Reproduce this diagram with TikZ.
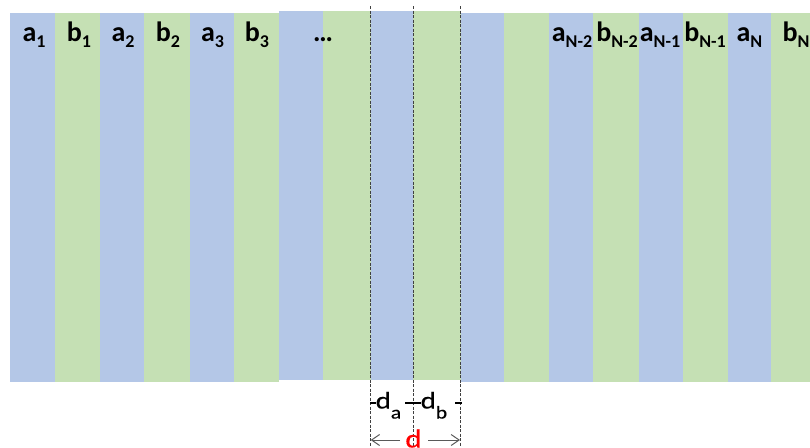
\documentclass[tikz,border=0pt]{standalone}
\usepackage{fontspec}
\setmainfont{Carlito}
\newfontfamily\dimfont{Carlito}[FakeStretch=1.2,FakeBold=0.3]
\usetikzlibrary{arrows.meta}
\definecolor{stripeblue}{HTML}{B4C7E7}
\definecolor{stripegreen}{HTML}{C5E0B4}
\definecolor{dimgray}{HTML}{595959}
\newcommand\toplab[2]{#1\raisebox{-6pt}{\fontsize{18}{18}\selectfont #2}}
\newcommand\botlab[2]{#1\raisebox{-10pt}{\fontsize{18}{18}\selectfont #2}}
\begin{document}
\begin{tikzpicture}[x=1pt,y=-1pt,
 toplabel/.style={anchor=base,inner sep=0pt,font=\bfseries\fontsize{28}{28}\selectfont},
 dimlabel/.style={anchor=base west,inner sep=0pt,font=\dimfont\fontsize{24}{24}\selectfont},
 guide/.style={draw=black!75,line width=0.8pt,dash pattern=on 3pt off 1.5pt},
 tickmark/.style={line width=2.2pt,draw=black},
 dimarrow/.style={draw=dimgray,line width=1pt,-{Straight Barb[length=8pt,width=11pt]}}]
\useasboundingbox (0,0) rectangle (810,447);
\clip (0,0) rectangle (810,447);
% stripes
\foreach \l/\r/\c in {10/55/stripeblue, 55/100/stripegreen, 100/144/stripeblue, 144/190/stripegreen, 190/234/stripeblue, 234/278.5/stripegreen}
  \fill[\c] (\l,12.7) rectangle (\r,381.7);
\foreach \l/\r/\c in {278.5/323/stripeblue, 323/370.7/stripegreen, 370.7/413.3/stripeblue, 413.3/460.7/stripegreen}
  \fill[\c] (\l,10.7) rectangle (\r,380);
\foreach \l/\r/\c in {460.7/504/stripeblue, 504/549/stripegreen, 549/593/stripeblue, 593/639/stripegreen, 639/683/stripeblue, 683/728/stripegreen, 728/771/stripeblue, 771/815/stripegreen}
  \fill[\c] (\l,12.7) rectangle (\r,381.7);
% top labels
\node[toplabel] (a1) at (34,41) {\toplab{a}{1}};
\node[toplabel] (b1) at (79,41) {\toplab{b}{1}};
\node[toplabel] (a2) at (123,41) {\toplab{a}{2}};
\node[toplabel] (b2) at (168,41) {\toplab{b}{2}};
\node[toplabel] (a3) at (212.5,41) {\toplab{a}{3}};
\node[toplabel] (b3) at (257,41) {\toplab{b}{3}};
\node[toplabel] (dots) at (323,41) {…};
\node[toplabel] (aN2) at (572,41) {\toplab{a}{N-2}};
\node[toplabel] (bN2) at (617,41) {\toplab{b}{N-2}};
\node[toplabel] (aN1) at (660,41) {\toplab{a}{N-1}};
\node[toplabel] (bN1) at (705,41) {\toplab{b}{N-1}};
\node[toplabel] (aN) at (749.5,41) {\toplab{a}{N}};
\node[toplabel] (bN) at (796,41) {\toplab{b}{N}};
% guide lines
\coordinate (g1t) at (370.7,6);  \coordinate (g1b) at (370.7,447);
\coordinate (g2t) at (413.3,6);  \coordinate (g2b) at (413.3,447);
\coordinate (g3t) at (460.7,6);  \coordinate (g3b) at (460.7,447);
\draw[guide] (g1t) -- (g1b);
\draw[guide] (g2t) -- (g2b);
\draw[guide] (g3t) -- (g3b);
% tick marks
\coordinate (t1a) at (370,403); \coordinate (t1b) at (375.5,403);
\coordinate (t2a) at (405,403); \coordinate (t2b) at (420.5,403);
\coordinate (t3a) at (455,403); \coordinate (t3b) at (461.5,403);
\draw[tickmark] (t1a) -- (t1b);
\draw[tickmark] (t2a) -- (t2b);
\draw[tickmark] (t3a) -- (t3b);
% dimension labels
\node[dimlabel] (da) at (375.5,408.5) {\botlab{d}{a}};
\node[dimlabel] (db) at (420.5,408.5) {\botlab{d}{b}};
\node[dimlabel,anchor=base,text=red,font=\dimfont\fontsize{26}{26}\selectfont] (dd) at (413.5,447.5) {d};
% dimension arrows
\coordinate (al) at (400,440); \coordinate (alt) at (370.7,440);
\coordinate (ar) at (428,440); \coordinate (art) at (460,440);
\draw[dimarrow] (al) -- (alt);
\draw[dimarrow] (ar) -- (art);
\end{tikzpicture}
\end{document}
